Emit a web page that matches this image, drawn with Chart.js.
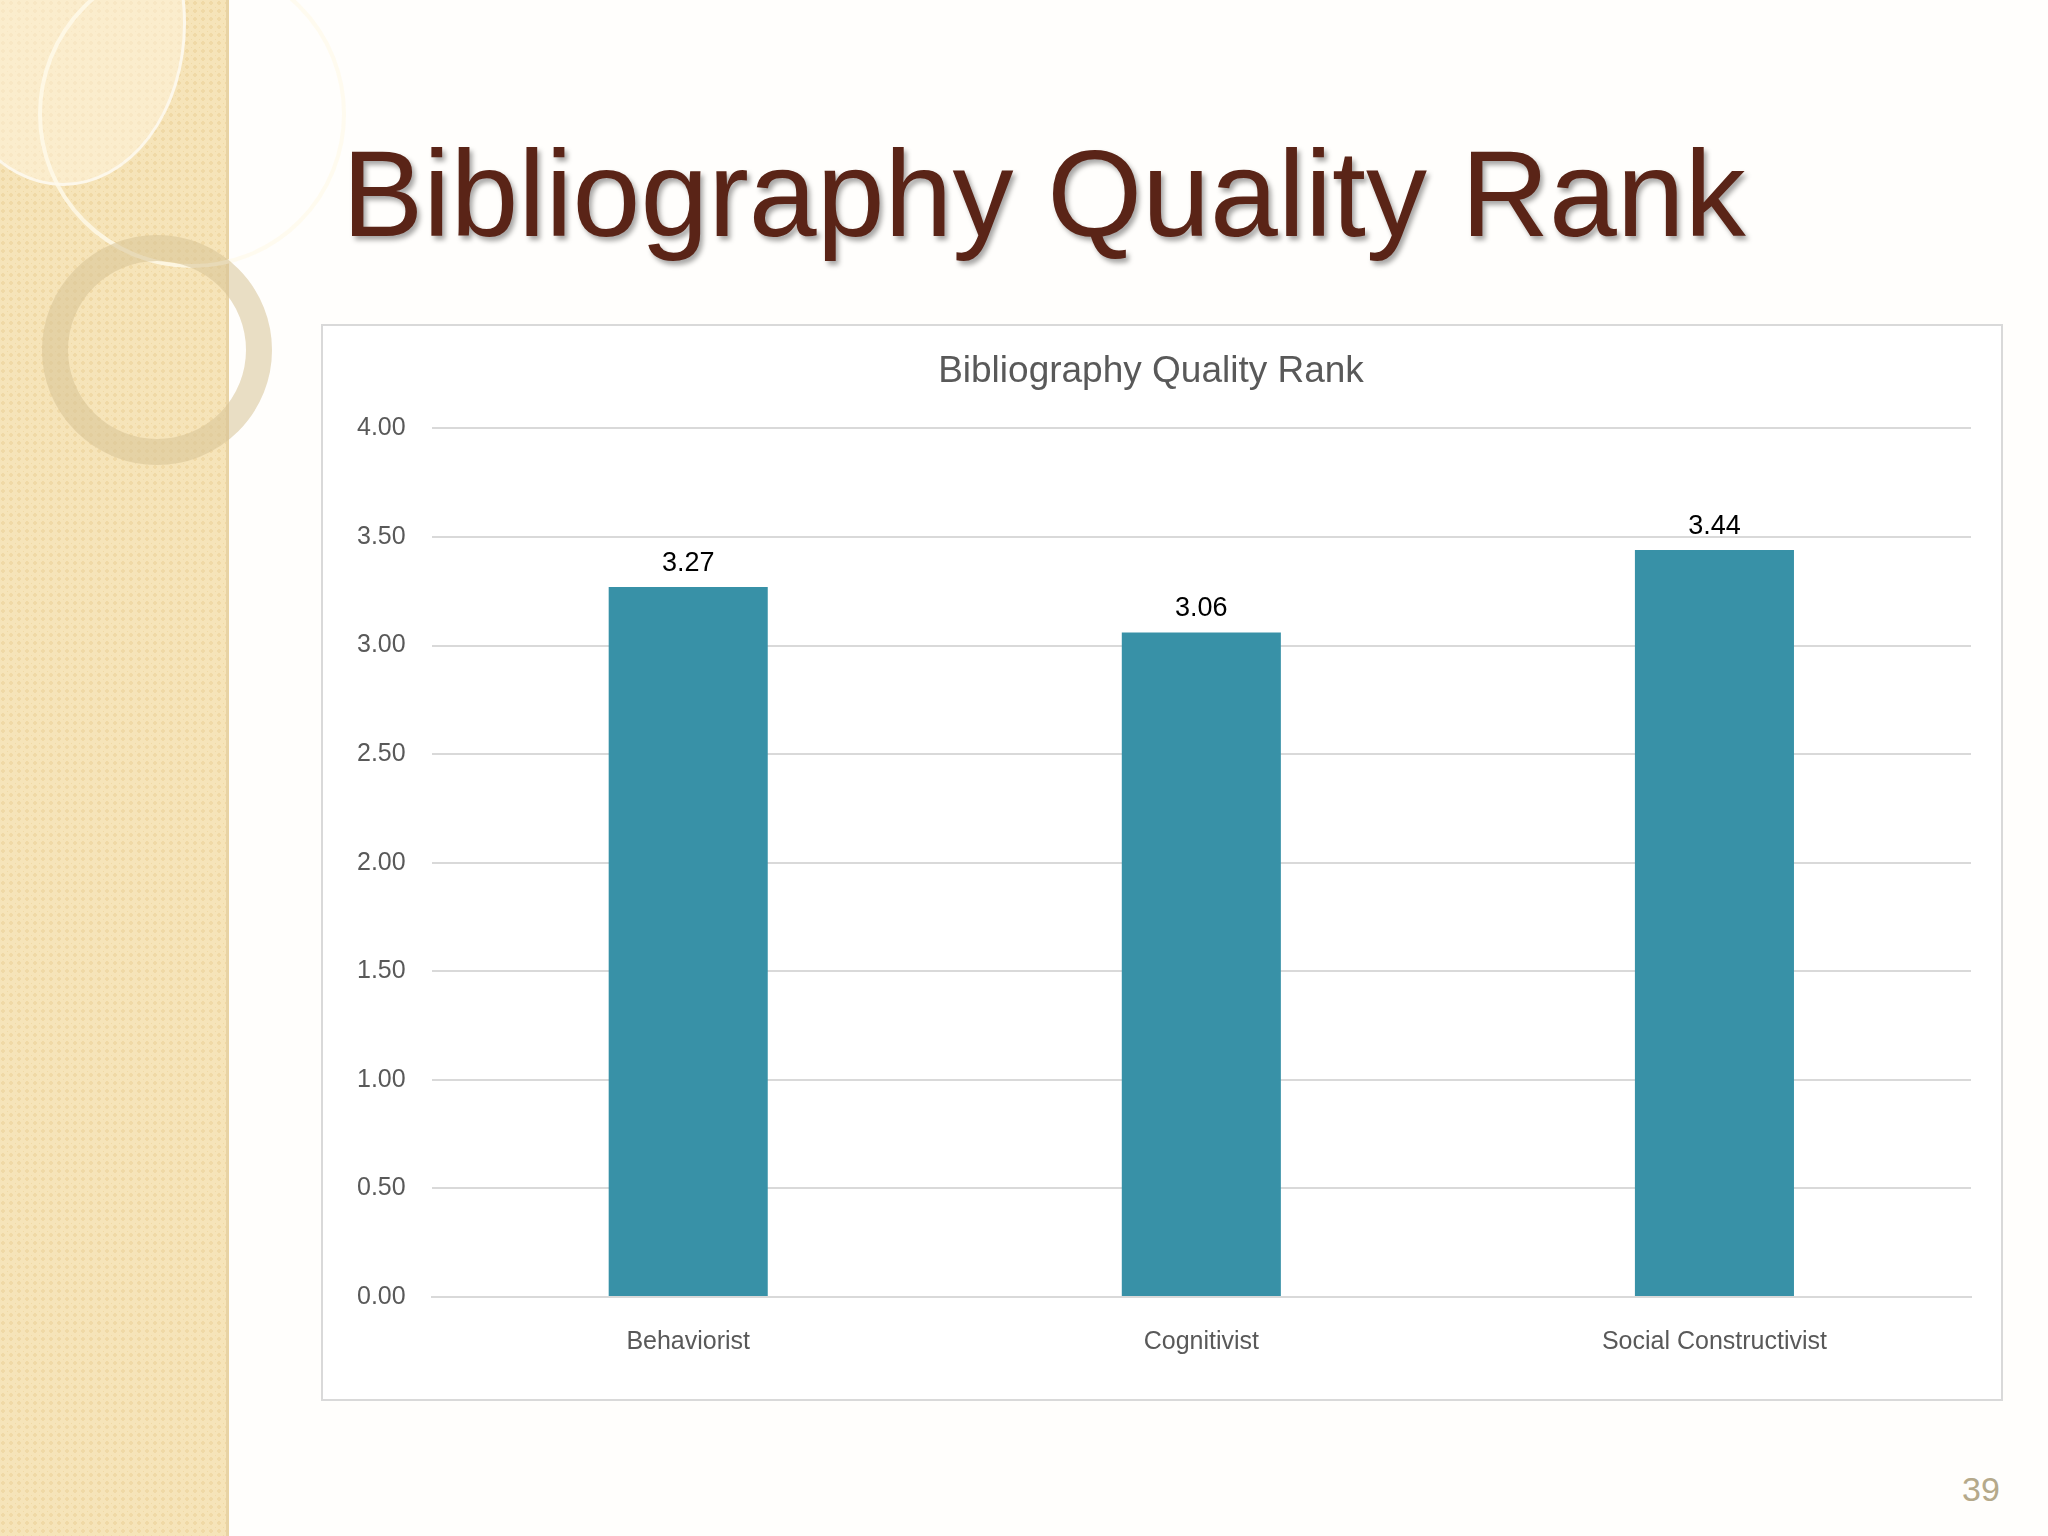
<!DOCTYPE html>
<html>
<head>
<meta charset="utf-8">
<script src="https://cdn.jsdelivr.net/npm/chart.js@4"></script>
<style>
  html, body { margin: 0; padding: 0; }
  body { width: 2048px; height: 1536px; position: relative; overflow: hidden; background: #fffefc; font-family: Arial, "Liberation Sans", sans-serif; }
  .strip { position: absolute; left: 0; top: 0; width: 226px; height: 1536px;
    background: repeating-radial-gradient(circle at 3px 3px, #f0d9a6 0 2px, #f6e4b9 2px 6px);
    background-size: 8px 8px; border-right: 3px solid #e8d3a4; }
  .ring { position: absolute; border-radius: 50%; }
  .title { position: absolute; left: 342px; top: 124px; font-size: 122px; color: #5a2417;
    text-shadow: 3px 4px 5px rgba(0,0,0,0.35); white-space: nowrap; }
  .box { position: absolute; left: 321px; top: 324px; width: 1678px; height: 1073px; border: 2px solid #d9d9d9; background: #fff; }
  .page { position: absolute; left: 1962px; top: 1470px; font-size: 34px; color: #b5a98a; }
</style>
</head>
<body>
<div class="strip"></div>
<div class="ring" style="left:-60px;top:-140px;width:240px;height:320px;background:rgba(255,245,225,0.5);border:3px solid rgba(255,255,255,0.6)"></div>
<div class="ring" style="left:38px;top:-40px;width:300px;height:300px;border:4px solid rgba(255,250,235,0.8)"></div>
<div class="ring" style="left:42px;top:235px;width:230px;height:230px;border:26px solid rgba(215,195,150,0.55);box-sizing:border-box"></div>
<div class="title">Bibliography Quality Rank</div>
<div class="box"><canvas id="chart"></canvas></div>
<div class="page">39</div>
<script>
const categories = ['Behaviorist', 'Cognitivist', 'Social Constructivist'];
const rankValues = [3.27, 3.06, 3.44];
const tickMax = 4;
const tickStep = 0.5;

// Draw value labels above the bars
const valueLabels = {
  id: 'valueLabels',
  afterDatasetsDraw(chart) {
    const c = chart.ctx;
    const meta = chart.getDatasetMeta(0);
    c.save();
    c.font = '27px Arial, "Liberation Sans", sans-serif';
    c.fillStyle = '#000';
    c.textAlign = 'center';
    c.textBaseline = 'bottom';
    meta.data.forEach((bar, i) => {
      c.fillText(rankValues[i].toFixed(2), bar.x, bar.y - 10);
    });
    c.restore();
  }
};

const ctx = document.getElementById('chart').getContext('2d');
new Chart(ctx, {
  type: 'bar',
  data: {
    labels: categories,
    datasets: [{
      data: rankValues,
      backgroundColor: '#3891a7',
      categoryPercentage: 1,
      barPercentage: 0.31
    }]
  },
  options: {
    responsive: true,
    maintainAspectRatio: false,
    animation: false,
    layout: { padding: { left: 8, right: 30, top: 10, bottom: 20 } },
    plugins: {
      legend: { display: false },
      tooltip: { enabled: false },
      title: {
        display: true,
        text: 'Bibliography Quality Rank',
        color: '#595959',
        font: { size: 37, weight: 'normal', family: 'Arial, "Liberation Sans", sans-serif' },
        padding: { top: 14, bottom: 34 }
      }
    },
    scales: {
      x: {
        grid: { display: false },
        border: { color: '#d9d9d9', width: 2 },
        ticks: { color: '#595959', font: { size: 25 }, padding: 22 }
      },
      y: {
        min: 0,
        max: tickMax,
        ticks: { stepSize: tickStep, color: '#595959', font: { size: 25 }, padding: 26,
          callback: v => v.toFixed(2) },
        grid: { color: '#d9d9d9', lineWidth: 2, drawTicks: false },
        border: { display: false }
      }
    }
  },
  plugins: [valueLabels]
});
</script>
</body>
</html>
